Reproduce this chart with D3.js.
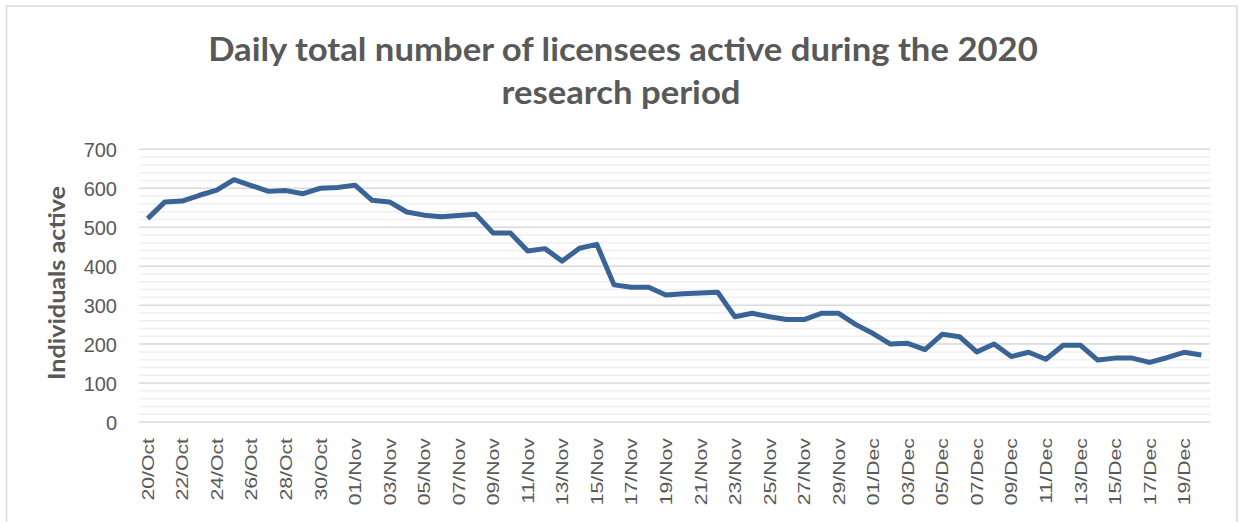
<!DOCTYPE html>
<html><head><meta charset="utf-8">
<script src="https://cdn.jsdelivr.net/npm/d3@7"></script>
<style>body{margin:0;background:#fff}svg{display:block}</style>
</head><body>
<svg id="c" width="1245" height="522"></svg>
<script>
const categories = ["20/Oct","21/Oct","22/Oct","23/Oct","24/Oct","25/Oct","26/Oct","27/Oct","28/Oct","29/Oct","30/Oct","31/Oct",
"01/Nov","02/Nov","03/Nov","04/Nov","05/Nov","06/Nov","07/Nov","08/Nov","09/Nov","10/Nov","11/Nov","12/Nov","13/Nov","14/Nov","15/Nov","16/Nov","17/Nov","18/Nov","19/Nov","20/Nov","21/Nov","22/Nov","23/Nov","24/Nov","25/Nov","26/Nov","27/Nov","28/Nov","29/Nov","30/Nov",
"01/Dec","02/Dec","03/Dec","04/Dec","05/Dec","06/Dec","07/Dec","08/Dec","09/Dec","10/Dec","11/Dec","12/Dec","13/Dec","14/Dec","15/Dec","16/Dec","17/Dec","18/Dec","19/Dec","20/Dec"];
const activeLicensees = [522,565,567,582,595,622,607,592,594,586,600,602,
608,569,565,539,531,527,530,533,485,485,439,445,413,446,456,352,346,346,326,329,331,333,270,279,270,263,263,279,279,250,
227,200,202,186,225,219,180,200,168,179,161,197,197,159,164,164,153,165,179,172];
const yTicks = [0,100,200,300,400,500,600,700];
const yMinorTicks = d3.range(0, 701, 20);
const titleLines = ["Daily total number of licensees active during the 2020","research period"];
const yTitle = "Individuals active";

const svg = d3.select("#c");
const L = 139, R = 1210, T = 149.3, B = 422;
const x = d3.scalePoint().domain(categories).range([L, R]).padding(0.5);
const y = d3.scaleLinear().domain([0, 700]).range([B, T]);

// outer border
svg.append("rect").attr("x",6.5).attr("y",6).attr("width",1230.5).attr("height",530)
  .attr("fill","#fff").attr("stroke","#d9d9d9").attr("stroke-width",1.5);

// minor grid
svg.append("g").selectAll("line").data(yMinorTicks.filter(v=>v%100!==0)).join("line")
  .attr("x1",L).attr("x2",R).attr("y1",d=>y(d)).attr("y2",d=>y(d))
  .attr("stroke","#efefef").attr("stroke-width",1.5);
// major grid
svg.append("g").selectAll("line").data(yTicks).join("line")
  .attr("x1",L).attr("x2",R).attr("y1",d=>y(d)).attr("y2",d=>y(d))
  .attr("stroke","#d9d9d9").attr("stroke-width",1.5);

// y axis labels
const yAxis = d3.axisLeft(y).tickValues(yTicks).tickSize(0).tickPadding(0);
const gy = svg.append("g").attr("transform",`translate(117,0)`).call(yAxis);
gy.select(".domain").remove();
gy.selectAll("text").attr("font-family","'Liberation Sans', Arial, sans-serif")
  .attr("font-size",20).attr("fill","#595959").attr("dy","0.35em");

// x axis labels
const labelCats = categories.filter((d,i)=>i%2===0);
const xAxis = d3.axisBottom(x).tickValues(labelCats).tickSize(0).tickPadding(0);
const gx = svg.append("g").call(xAxis);
gx.select(".domain").remove();
gx.selectAll(".tick").attr("transform", d=>`translate(${x(d)},438)`);
gx.selectAll("text")
  .attr("font-family","'Liberation Sans', Arial, sans-serif")
  .attr("font-size",17).attr("fill","#595959")
  .attr("text-anchor","end").attr("y",0).attr("dy","0.36em")
  .attr("transform","rotate(-90) scale(1.25,1)");

// line
svg.append("path").datum(activeLicensees)
  .attr("fill","none").attr("stroke","#3a6396").attr("stroke-width",5)
  .attr("stroke-linejoin","round").attr("stroke-linecap","butt")
  .attr("d", d3.line().x((d,i)=>x(categories[i])).y(d=>y(d)));

// title
const tg = svg.append("g");
const t1 = tg.append("text").text(titleLines[0])
  .attr("font-family","Lato, 'Open Sans', sans-serif").attr("font-weight","bold")
  .attr("font-size",32).attr("fill","#595959").attr("text-anchor","middle");
const w1 = t1.node().getComputedTextLength();
const sx = 830 / w1;
t1.attr("transform",`translate(623,61) scale(${sx},1)`);
tg.append("text").text(titleLines[1])
  .attr("font-family","Lato, 'Open Sans', sans-serif").attr("font-weight","bold")
  .attr("font-size",32).attr("fill","#595959").attr("text-anchor","middle")
  .attr("transform",`translate(621,104) scale(${sx},1)`);

// y title
const yt = svg.append("text").text(yTitle)
  .attr("font-family","Lato, 'Open Sans', sans-serif").attr("font-weight","bold")
  .attr("font-size",23).attr("fill","#595959").attr("text-anchor","middle");
const wy = yt.node().getComputedTextLength();
yt.attr("transform",`translate(65,283) rotate(-90) scale(${194/wy},1)`);
</script>
</body></html>
